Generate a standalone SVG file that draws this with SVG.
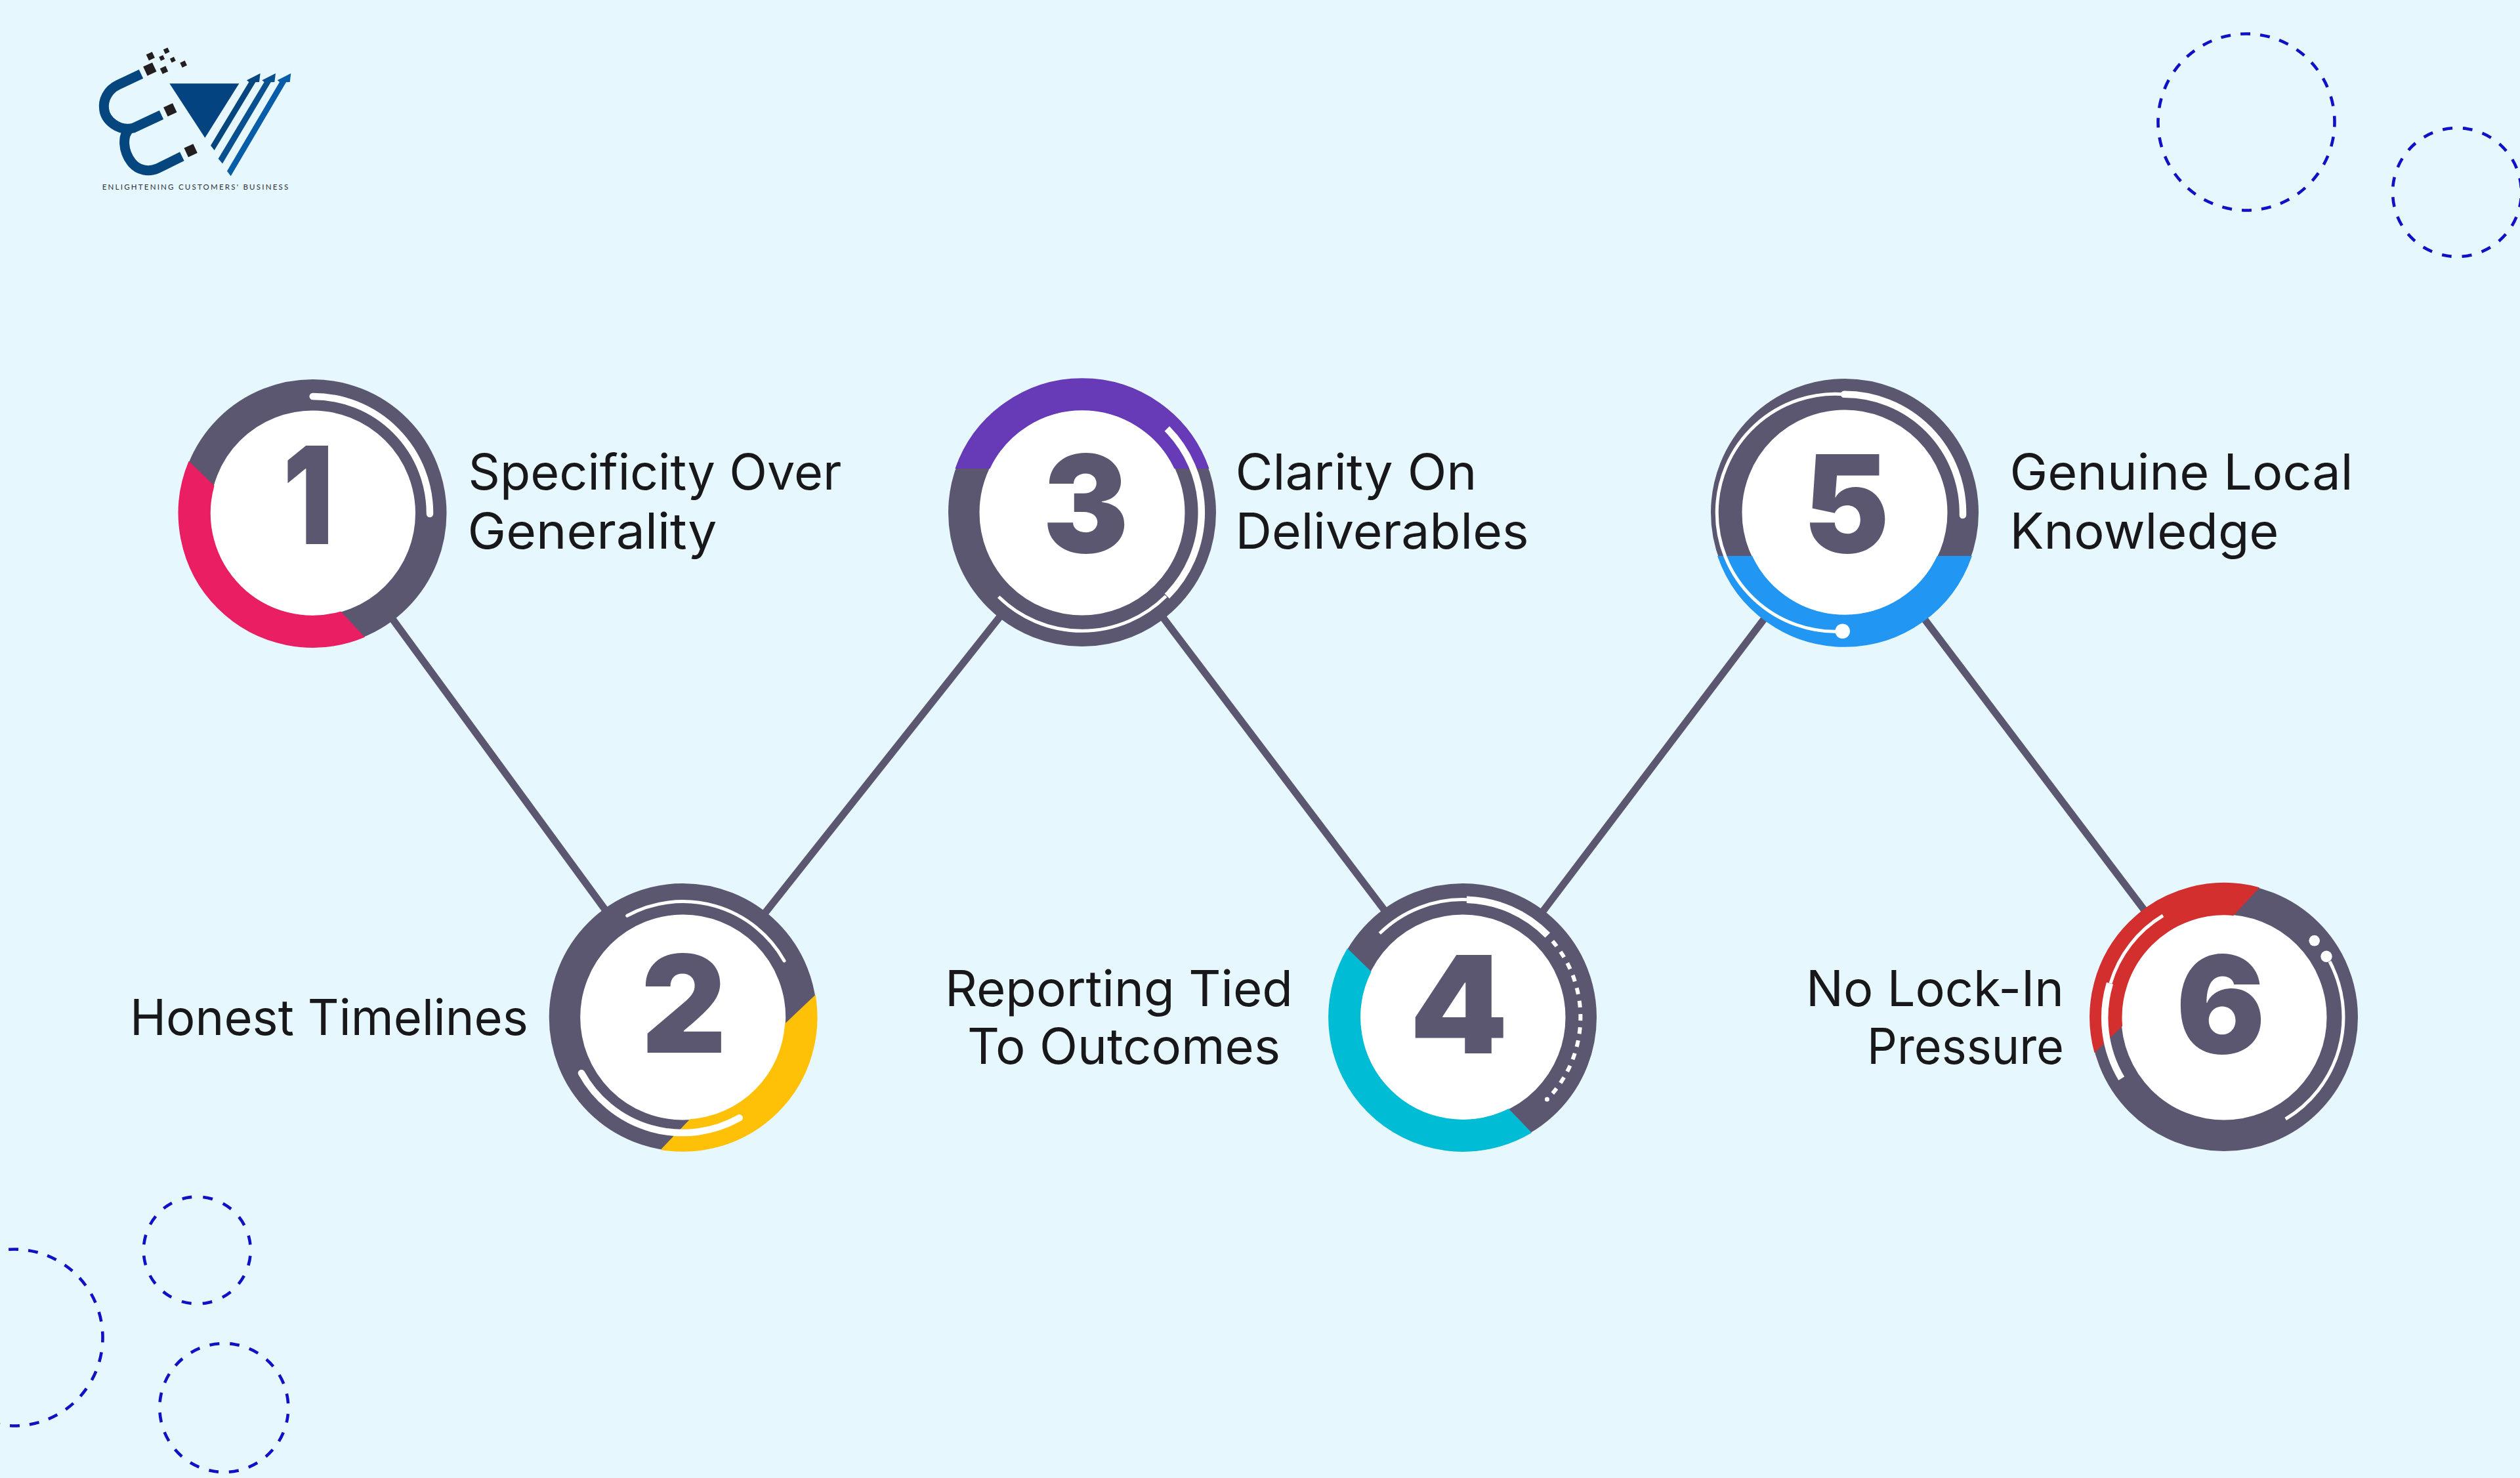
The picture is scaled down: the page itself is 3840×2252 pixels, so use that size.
<svg xmlns="http://www.w3.org/2000/svg" width="3840" height="2252" viewBox="0 0 3840 2252">
<style>
.ring{fill:none;stroke:#5c5771;stroke-width:47.5}
.hole{fill:#fff}
.hi{fill:none;stroke:#fff;stroke-width:10.5}
.rnd{stroke-linecap:round}
.thin{fill:none;stroke:#fff;stroke-width:5}
.seg{stroke-width:1.6}
.num{font-family:"Inter","Liberation Sans",sans-serif;font-weight:900;font-size:206px;fill:#5c5771}
.lab{font-family:"Inter","Liberation Sans",sans-serif;font-weight:400;font-size:75px;fill:#18181a}
.conn{stroke:#5c5771;stroke-width:11;fill:none}
.d1{fill:none;stroke:#1010c6;stroke-width:4.6;stroke-dasharray:15 15.1}
.d2{fill:none;stroke:#1010c6;stroke-width:4.6;stroke-dasharray:15 15.8}
.d3{fill:none;stroke:#1010c6;stroke-width:4.6;stroke-dasharray:15 17}
.mag{fill:none;stroke:#06467f;stroke-width:45}
.sq{fill:#231f20}
</style>
<rect width="3840" height="2252" fill="#e6f7fd"/>

<g id="decor">
<circle class="d1" cx="3423" cy="186" r="134.5" stroke-dashoffset="7.5"/>
<circle class="d2" cx="3744" cy="293" r="98" transform="rotate(9 3744 293)" stroke-dashoffset="7.5"/>
<circle class="d3" cx="300.3" cy="1905" r="81.5" transform="rotate(-11.25 300.3 1905)" stroke-dashoffset="7.5"/>
<circle class="d2" cx="341.3" cy="2145" r="98" transform="rotate(9 341.3 2145)" stroke-dashoffset="7.5"/>
<circle class="d1" cx="22" cy="2038" r="134.5" stroke-dashoffset="7.5"/>
</g>

<g id="logo" transform="translate(100 40) scale(.33333)">
<path class="mag" d="M345,218 L240,268 C190,292 170,340 176,380 C182,430 240,482 310,465 L438,405"/>
<path class="mag" d="M292,468 C258,500 262,570 300,620 C330,660 380,668 420,650 L532,595"/>
<polygon points="475,262 793,262 637,510" fill="#03437f"/>
<polygon points="663,545 680,567 868,256 885,255 890,215 828,247 838,255" fill="#06467f"/>
<polygon points="698,605 717,628 938,256 955,255 960,215 898,247 908,255" fill="#08508f"/>
<polygon points="738,662 755,685 1008,256 1025,255 1030,215 968,247 978,255" fill="#075da8"/>
<g class="sq">
<rect x="362" y="173" width="46" height="46" transform="rotate(-25 385 196)"/>
<rect x="373" y="122" width="30" height="30" transform="rotate(-25 388 137)"/>
<rect x="436" y="186" width="28" height="28" transform="rotate(-25 450 200)"/>
<rect x="455" y="359" width="46" height="46" transform="rotate(-25 478 382)"/>
<rect x="549" y="545" width="46" height="46" transform="rotate(-25 572 568)"/>
<rect x="430" y="135" width="20" height="20" transform="rotate(-25 440 145)"/>
<rect x="450" y="101" width="22" height="22" transform="rotate(-25 461 112)"/>
<rect x="480" y="143" width="20" height="20" transform="rotate(-25 490 153)"/>
<rect x="527" y="161" width="24" height="24" transform="rotate(-25 539 173)"/>
</g>
</g>
<text id="tagline" x="155.7" y="289" textLength="283.6" lengthAdjust="spacing" font-family="Lato, 'Liberation Sans', sans-serif" font-size="11.5" fill="#2a3040">ENLIGHTENING CUSTOMERS' BUSINESS</text>

<g id="connectors">
<line class="conn" x1="598" y1="943" x2="925" y2="1390"/>
<line class="conn" x1="1165" y1="1392" x2="1525" y2="938"/>
<line class="conn" x1="1770" y1="938" x2="2112" y2="1390"/>
<line class="conn" x1="2350" y1="1390" x2="2692" y2="938"/>
<line class="conn" x1="2930" y1="940" x2="3270" y2="1390"/>
</g>

<g id="node-1">
<circle class="hole" cx="476.5" cy="782" r="160"/>
<circle class="ring" cx="476.5" cy="782" r="180.25"/>
<path class="seg" fill="#e91e63" stroke="#e91e63" d="M288,703.9 A204,204 0 0 0 554.5,970.5 L519.1,932.6 A156.5,156.5 0 0 1 325.7,740.2 Z"/>
<path class="hi rnd" d="M476.7,604 A178,178 0 0 1 655,783"/>
<text class="num" x="431" y="829.3" textLength="77" lengthAdjust="spacingAndGlyphs">1</text>
<text class="lab" x="713.5" y="746" textLength="569" lengthAdjust="spacingAndGlyphs">Specificity Over</text>
<text class="lab" x="712.5" y="836" textLength="380" lengthAdjust="spacingAndGlyphs">Generality</text>
</g>

<g id="node-2">
<circle class="hole" cx="1040.7" cy="1550" r="160"/>
<circle class="ring" cx="1040.7" cy="1550" r="180.25"/>
<path class="seg" fill="#ffc107" stroke="#ffc107" d="M1242.1,1517.3 A204,204 0 0 1 1008.2,1751.4 L1051.7,1706 A156.5,156.5 0 0 0 1196.9,1560 Z"/>
<path class="thin rnd" d="M955.7,1395.3 A177,177 0 0 1 1195,1464"/>
<path class="hi rnd" d="M886,1635 A176,176 0 0 0 1126.7,1703.3"/>
<text class="num" x="977" y="1604.3" textLength="130" lengthAdjust="spacingAndGlyphs">2</text>
<text class="lab" x="198" y="1577" textLength="607" lengthAdjust="spacingAndGlyphs">Honest Timelines</text>
</g>

<g id="node-3">
<circle class="hole" cx="1649" cy="781" r="160"/>
<circle class="ring" cx="1649" cy="781" r="180.25"/>
<path class="seg" fill="#673ab7" stroke="#673ab7" d="M1456.6,713.3 A204,204 0 0 1 1841.4,713.3 L1790.1,713.3 A156.5,156.5 0 0 0 1507.9,713.3 Z"/>
<path class="hi" d="M1778.3,653.3 A181,181 0 0 1 1778.3,908.3"/>
<path class="thin" d="M1521.7,909.3 A181,181 0 0 0 1776.7,908.3"/>
<text class="num" x="1589" y="841.7" textLength="131" lengthAdjust="spacingAndGlyphs">3</text>
<text class="lab" x="1882.5" y="746" textLength="368" lengthAdjust="spacingAndGlyphs">Clarity On</text>
<text class="lab" x="1882.5" y="836" textLength="447" lengthAdjust="spacingAndGlyphs">Deliverables</text>
</g>

<g id="node-4">
<circle class="hole" cx="2229" cy="1550" r="160"/>
<circle class="ring" cx="2229" cy="1550" r="180.25"/>
<path class="seg" fill="#00bcd4" stroke="#00bcd4" d="M2053.3,1446.3 A204,204 0 0 0 2332.7,1725.7 L2298.6,1690.2 A156.5,156.5 0 0 1 2088.6,1480.7 Z"/>
<path class="thin" d="M2102.3,1422.3 A180,180 0 0 1 2235,1370.7"/>
<path class="hi" d="M2235,1370.7 A180,180 0 0 1 2358.3,1425"/>
<path fill="none" stroke="#fff" stroke-width="6" stroke-dasharray="10 10.2" d="M2365.8,1434 A179.3,179.3 0 0 1 2365.8,1666"/>
<circle cx="2357.4" cy="1675" r="3.5" fill="#fff"/>
<text class="num" x="2148" y="1605" textLength="150" lengthAdjust="spacingAndGlyphs">4</text>
<text class="lab" x="1440" y="1533" textLength="530" lengthAdjust="spacingAndGlyphs">Reporting Tied</text>
<text class="lab" x="1474" y="1621" textLength="477" lengthAdjust="spacingAndGlyphs">To Outcomes</text>
</g>

<g id="node-5">
<circle class="hole" cx="2811" cy="781" r="160"/>
<circle class="ring" cx="2811" cy="781" r="180.25"/>
<path class="seg" fill="#2196f3" stroke="#2196f3" d="M2618.2,847.7 A204,204 0 0 0 3003.8,847.7 L2952.6,847.7 A156.5,156.5 0 0 1 2669.4,847.7 Z"/>
<path class="hi rnd" d="M2810,600.7 A180.5,180.5 0 0 1 2991,785"/>
<path class="thin" d="M2810,600.7 A181,181 0 1 0 2806.7,962"/>
<circle cx="2807.7" cy="961.7" r="11.3" fill="#fff"/>
<text class="num" x="2748" y="841.7" textLength="131" lengthAdjust="spacingAndGlyphs">5</text>
<text class="lab" x="3062.5" y="746" textLength="523" lengthAdjust="spacingAndGlyphs">Genuine Local</text>
<text class="lab" x="3062.5" y="836" textLength="410" lengthAdjust="spacingAndGlyphs">Knowledge</text>
</g>

<g id="node-6">
<circle class="hole" cx="3389" cy="1550" r="160"/>
<circle class="ring" cx="3389" cy="1550" r="180.25"/>
<path class="seg" fill="#d32f2f" stroke="#d32f2f" d="M3441.7,1352.7 A204,204 0 0 0 3192,1602.8 L3233.3,1563.3 A156.5,156.5 0 0 1 3403.2,1394.2 Z"/>
<path class="thin" d="M3296,1395 A181,181 0 0 0 3216,1498.3"/>
<path class="hi" d="M3215,1498.3 A181,181 0 0 0 3232.7,1643.3"/>
<path class="thin" d="M3550,1465 A181,181 0 0 1 3482.7,1705"/>
<circle cx="3545" cy="1457.3" r="8.7" fill="#fff"/>
<circle cx="3526.7" cy="1433.3" r="8.3" fill="#fff"/>
<text class="num" x="3316" y="1605" textLength="136" lengthAdjust="spacingAndGlyphs">6</text>
<text class="lab" x="2752" y="1533" textLength="393" lengthAdjust="spacingAndGlyphs">No Lock-In</text>
<text class="lab" x="2845" y="1621" textLength="300" lengthAdjust="spacingAndGlyphs">Pressure</text>
</g>
</svg>
